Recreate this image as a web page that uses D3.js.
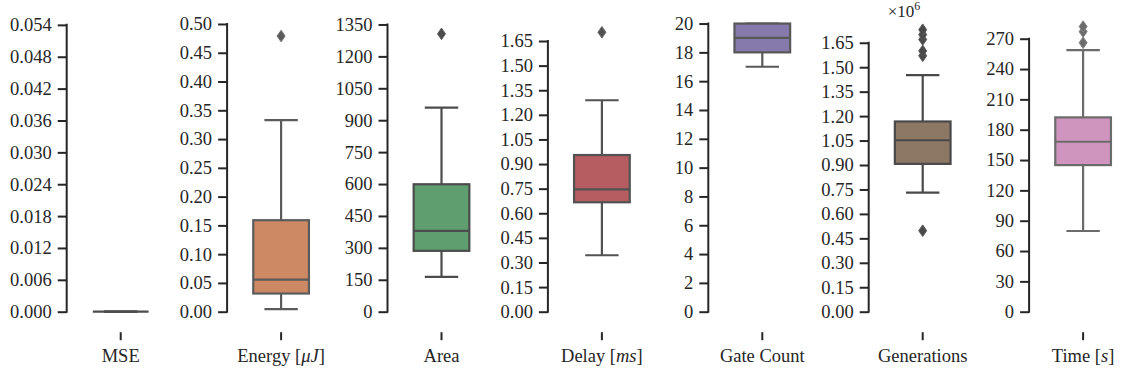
<!DOCTYPE html>
<html lang="en">
<head>
<meta charset="utf-8">
<title>Boxplots</title>
<script src="https://cdn.jsdelivr.net/npm/d3@7"></script>
<style>
  body { margin: 0; background: #fff; }
  svg text { font-family: "Liberation Serif", "Times New Roman", serif; fill: #262626; }
</style>
</head>
<body>
<svg id="chart"></svg>
<script>
// one boxplot per metric
var metrics = ["MSE", "Energy", "Area", "Delay", "Gate Count", "Generations", "Time"];
var whiskerLow  = [0, 0.0046, 164, 0.344, 17,   0.731, 79.8];
var q1          = [0, 0.0316, 286, 0.667, 18,   0.907, 145];
var medians     = [0, 0.0557, 380, 0.746, 19,   1.052, 168.1];
var q3          = [0, 0.159,  599, 0.955, 20,   1.167, 192.2];
var whiskerHigh = [0, 0.333,  959, 1.289, 20,   1.451, 258.8];
var outliers    = [[], [0.479], [1306], [1.703], [], [0.497, 1.57, 1.60, 1.67, 1.70, 1.73], [266, 277, 282]];
// Generations is in units of 1e6

var yTicks = [
  [0, 0.006, 0.012, 0.018, 0.024, 0.030, 0.036, 0.042, 0.048, 0.054],
  [0, 0.05, 0.10, 0.15, 0.20, 0.25, 0.30, 0.35, 0.40, 0.45, 0.50],
  [0, 150, 300, 450, 600, 750, 900, 1050, 1200, 1350],
  [0, 0.15, 0.30, 0.45, 0.60, 0.75, 0.90, 1.05, 1.20, 1.35, 1.50, 1.65],
  [0, 2, 4, 6, 8, 10, 12, 14, 16, 18, 20],
  [0, 0.15, 0.30, 0.45, 0.60, 0.75, 0.90, 1.05, 1.20, 1.35, 1.50, 1.65],
  [0, 30, 60, 90, 120, 150, 180, 210, 240, 270]
];
var tickDecimals = [3, 2, 0, 2, 0, 2, 0];
var yLimits = [0.0568, 0.5243, 1418, 1.839, 20.94, 1.851, 298.4];
var palette = ["#4C72B0", "#DD8452", "#55A868", "#C44E52", "#8172B3", "#937860", "#DA8BC3"];

var svgWidth = 1130, svgHeight = 378;
var firstAxisX = 66.7, panelStep = 160.4;
var yBottom = 311.7, yTopPx = 10;
var axesOffset = 19.2, axesWidth = 69.6;

var svg = d3.select("#chart")
    .attr("width", svgWidth)
    .attr("height", svgHeight);

metrics.forEach(function(name, i) {
  var ax = firstAxisX + panelStep * i;
  var g = svg.append("g").attr("transform", "translate(" + ax + ",0)");

  var y = d3.scaleLinear().domain([0, yLimits[i]]).range([yBottom, yTopPx]);
  var x = d3.scaleBand().domain([name])
      .range([axesOffset, axesOffset + axesWidth])
      .paddingInner(0.2).paddingOuter(0.1);

  // box colours like seaborn: desaturated fill, gray lines
  var base = d3.hsl(palette[i]);
  var fillC = d3.hsl(base.h, base.s * 0.75, base.l).formatHex();
  var lum = Math.round(base.l * 0.6 * 255);
  var gray = d3.rgb(lum, lum, lum).formatHex();

  // y axis (trimmed spine)
  var ticks = yTicks[i];
  var yAxis = d3.axisLeft(y)
      .tickValues(ticks)
      .tickSize(9)
      .tickPadding(6)
      .tickSizeOuter(0)
      .tickFormat(function(d) { return d.toFixed(tickDecimals[i]); });
  var yg = g.append("g").call(yAxis);
  yg.select(".domain").remove();
  yg.selectAll(".tick line").attr("stroke", "#262626").attr("stroke-width", 2);
  yg.selectAll(".tick text").style("font-size", "18.5px").attr("fill", "#262626")
      .style("font-family", "'Liberation Serif', serif");
  g.append("line")
      .attr("x1", 0).attr("x2", 0)
      .attr("y1", y(0) + 1).attr("y2", y(ticks[ticks.length - 1]) - 1)
      .attr("stroke", "#262626").attr("stroke-width", 2);

  // x axis: only the single tick is left after trimming
  var xAxis = d3.axisBottom(x).tickSize(8).tickSizeOuter(0).tickFormat("");
  var xg = g.append("g").attr("transform", "translate(0," + (yBottom + 20.5) + ")").call(xAxis);
  xg.select(".domain").remove();
  xg.selectAll(".tick line").attr("stroke", "#262626").attr("stroke-width", 2);

  var cx = x(name) + x.bandwidth() / 2;
  var bw = x.bandwidth();
  var capW = bw * 0.6;
  var lw = 2.2;

  // label
  var lab = g.append("text")
      .attr("x", cx).attr("y", 362)
      .attr("text-anchor", "middle")
      .style("font-size", "18.5px");
  var units = { "Energy": "\u03bcJ", "Delay": "ms", "Time": "s" };
  if (units[name]) {
    lab.append("tspan").text(name + " [");
    lab.append("tspan").style("font-style", "italic").text(units[name]);
    lab.append("tspan").text("]");
  } else {
    lab.text(name);
  }

  // whiskers
  g.append("line")
      .attr("x1", cx).attr("x2", cx)
      .attr("y1", y(whiskerLow[i])).attr("y2", y(q1[i]))
      .attr("stroke", gray).attr("stroke-width", lw);
  g.append("line")
      .attr("x1", cx).attr("x2", cx)
      .attr("y1", y(q3[i])).attr("y2", y(whiskerHigh[i]))
      .attr("stroke", gray).attr("stroke-width", lw);
  [whiskerLow[i], whiskerHigh[i]].forEach(function(v) {
    g.append("line")
        .attr("x1", cx - capW / 2).attr("x2", cx + capW / 2)
        .attr("y1", y(v)).attr("y2", y(v))
        .attr("stroke", gray).attr("stroke-width", lw);
  });

  // box
  g.append("rect")
      .attr("x", x(name))
      .attr("y", y(q3[i]))
      .attr("width", bw)
      .attr("height", y(q1[i]) - y(q3[i]))
      .attr("fill", fillC)
      .attr("stroke", gray).attr("stroke-width", lw);

  // median
  g.append("line")
      .attr("x1", x(name)).attr("x2", x(name) + bw)
      .attr("y1", y(medians[i])).attr("y2", y(medians[i]))
      .attr("stroke", gray).attr("stroke-width", lw);

  // outliers as thin diamonds
  g.selectAll(".flier")
      .data(outliers[i])
      .enter()
      .append("path")
      .attr("class", "flier")
      .attr("d", function(d) {
        var py = y(d);
        return "M" + cx + "," + (py - 5.8) + "L" + (cx + 4) + "," + py +
               "L" + cx + "," + (py + 5.8) + "L" + (cx - 4) + "," + py + "Z";
      })
      .attr("fill", gray)
      .attr("stroke", d3.rgb(gray).brighter(0.6).formatHex())
      .attr("stroke-width", 1);

  // offset text for Generations
  if (name === "Generations") {
    var off = g.append("text")
        .attr("x", 19).attr("y", 17)
        .style("font-size", "17px");
    off.append("tspan").text("\u00d710");
    off.append("tspan").attr("dy", -7).style("font-size", "12px").text("6");
  }
});
</script>
</body>
</html>
